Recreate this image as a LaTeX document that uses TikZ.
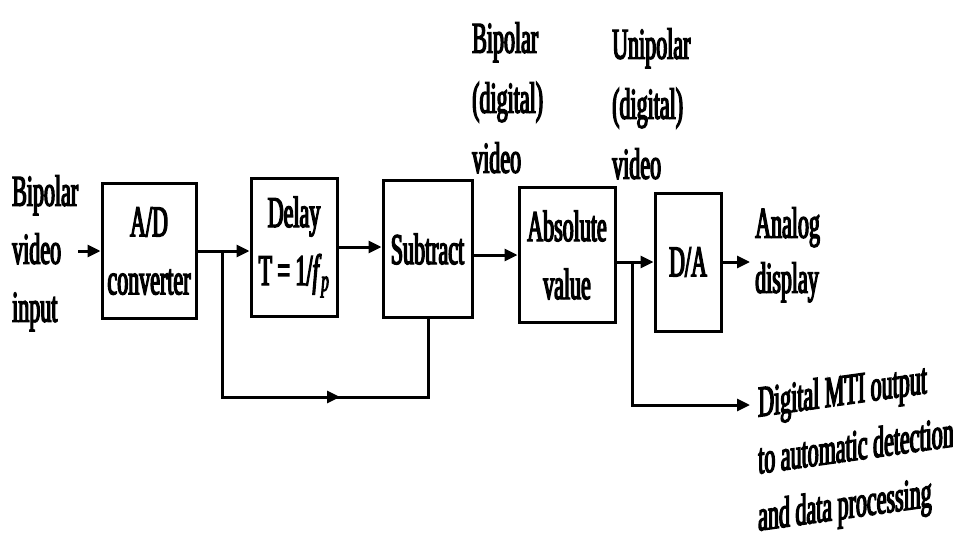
\documentclass[tikz,border=0pt]{standalone}
\usepackage{fontspec}
\setmainfont[FakeStretch=0.5,FakeBold=3]{Liberation Serif}
\usetikzlibrary{arrows.meta}
\newcommand\myfontA{\fontsize{44}{58}\selectfont}
\newcommand\myfontB{\fontsize{44}{60}\selectfont}
\newcommand\myfontC{\fontsize{44}{55}\selectfont}
\newcommand\myfontD{\fontsize{44}{57}\selectfont}
\begin{document}
\begin{tikzpicture}[x=1pt,y=-1pt,
  blk/.style={draw, line width=3pt, inner sep=0pt, align=center, font=\myfontA},
  lbl/.style={inner sep=0pt, align=left, anchor=north west},
  ln/.style={line width=3pt},
  arr/.style={line width=3pt, -{Triangle[length=13pt,width=12pt]}}]
\useasboundingbox (0,0) rectangle (953,551);

% blocks
\node[blk, minimum width=94pt, minimum height=135pt] (ad) at (149,251) {A/D\\converter};
\node[blk, minimum width=86pt, minimum height=138pt] (delay) at (294,247) {Delay\\T = 1/\textit{f}\textsubscript{\textit{p}}};
\node[blk, minimum width=89pt, minimum height=137pt] (sub) at (427.5,249) {Subtract};
\node[blk, minimum width=96pt, minimum height=135pt] (abs) at (567,255) {Absolute\\value};
\node[blk, minimum width=66pt, minimum height=138pt] (da) at (688,262) {D/A};

% labels
\node[lbl, font=\myfontA] (inlbl) at (12,175) {Bipolar\\video\\input};
\node[lbl, font=\myfontB] (bip) at (472,22) {Bipolar\\(digital)\\video};
\node[lbl, font=\myfontB] (unip) at (612,28) {Unipolar\\(digital)\\video};
\node[lbl, font=\myfontC] (analog) at (755,207) {Analog\\display};
\node[lbl, font=\myfontD, transform shape, yslant=0.14] (mti) at (758,386) {Digital MTI output\\to automatic detection\\and data processing};

% coordinates
\coordinate (in) at (78,251);
\coordinate (j1) at (222,251);
\coordinate (fbl) at (222,397);
\coordinate (fbm) at (340,397);
\coordinate (fbr) at (428,397);
\coordinate (j2) at (632,262);
\coordinate (outa) at (750,262);
\coordinate (mtiend) at (750,405);

% connectors
\draw[arr] (in) -- (ad.west);
\draw[arr] (ad.east) -- (ad.east -| delay.west);
\draw[arr] (delay.east) -- (delay.east -| sub.west);
\draw[arr] (abs.west -| sub.east) -- (abs.west);
\draw[arr] (abs.east |- da.west) -- (da.west);
\draw[arr] (da.east) -- (outa);
\draw[ln] (j1) |- (fbr) -- (sub.south -| fbr);
\draw[arr] (fbl) -- (fbm);
\draw[arr] (j2) |- (mtiend);
\end{tikzpicture}
\end{document}
